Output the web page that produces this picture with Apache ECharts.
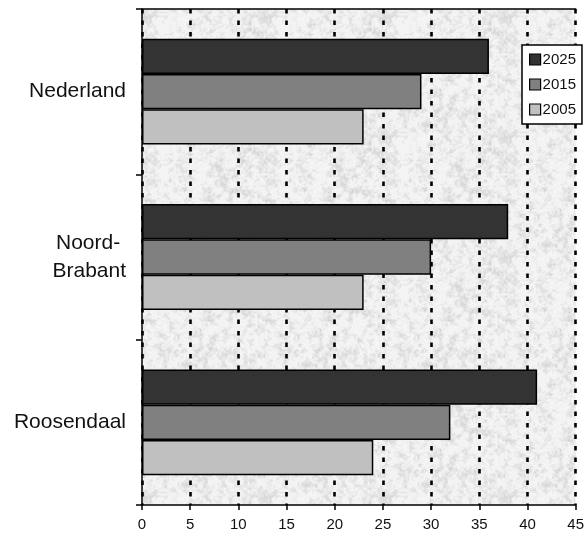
<!DOCTYPE html>
<html>
<head>
<meta charset="utf-8">
<script src="https://cdn.jsdelivr.net/npm/echarts@6/dist/echarts.min.js"></script>
<style>
  html, body { margin: 0; padding: 0; background: #ffffff; }
  #chart { width: 587px; height: 539px; }
</style>
</head>
<body>
<div id="chart"></div>
<script>
// Regions shown on the category axis, top to bottom
const regions = ['Nederland', 'Noord- \nBrabant', 'Roosendaal'];
// Years drawn per region, with their values
const years = ['2025', '2015', '2005'];
const values2025 = [36, 38, 41];
const values2015 = [29, 30, 32];
const values2005 = [23, 23, 24];
const barColors = ['#333333', '#808080', '#c0c0c0'];

// Speckled granite-like fill for the plot area (deterministic hash noise)
function makeTexture() {
  const size = 120;
  const c = document.createElement('canvas');
  c.width = size; c.height = size;
  const ctx = c.getContext('2d');
  const img = ctx.createImageData(size, size);
  function hash(x, y) {
    let h = (x * 374761393 + y * 668265263) | 0;
    h = (h ^ (h >>> 13)) * 1274126177 | 0;
    h = h ^ (h >>> 16);
    return ((h >>> 0) % 1000) / 1000;
  }
  function layer(x, y, cell, seed) {
    const n = size / cell;
    const gx = x / cell, gy = y / cell;
    const x0 = Math.floor(gx), y0 = Math.floor(gy);
    const fx = gx - x0, fy = gy - y0;
    const h = (i, j) => hash((i % n) + seed, (j % n) + seed * 7);
    const a = h(x0, y0), b = h(x0 + 1, y0), c2 = h(x0, y0 + 1), d = h(x0 + 1, y0 + 1);
    return (a * (1 - fx) + b * fx) * (1 - fy) + (c2 * (1 - fx) + d * fx) * fy;
  }
  for (let y = 0; y < size; y++) {
    for (let x = 0; x < size; x++) {
      const v = 0.55 * layer(x, y, 5, 11) + 0.45 * layer(x, y, 2, 53);
      const fine = hash(x + 1000, y + 2000);
      const g = 246 - Math.max(0, v - 0.4) * 60 - fine * 5;
      const i = (y * size + x) * 4;
      img.data[i] = g; img.data[i + 1] = g; img.data[i + 2] = g; img.data[i + 3] = 255;
    }
  }
  ctx.putImageData(img, 0, 0);
  return c;
}

const chart = echarts.init(document.getElementById('chart'), null, { renderer: 'canvas' });
const font = 'Liberation Sans, Arial, sans-serif';

const seriesValues = [values2025, values2015, values2005];

chart.setOption({
  animation: false,
  backgroundColor: '#ffffff',
  grid: {
    left: 142, top: 9, right: 10, bottom: 34,
    show: true,
    borderWidth: 0,
    backgroundColor: { image: makeTexture(), repeat: 'repeat' }
  },
  legend: {
    orient: 'vertical',
    left: 522, top: 45,
    width: 62,
    padding: [7, 6, 7, 7],
    itemGap: 10,
    itemWidth: 11, itemHeight: 11,
    icon: 'rect',
    backgroundColor: '#ffffff',
    borderColor: '#000000',
    borderWidth: 1.5,
    borderRadius: 0,
    textStyle: { fontFamily: font, fontSize: 15, color: '#111111', padding: [0, 0, 0, -3] },
    itemStyle: { borderColor: '#000000', borderWidth: 1.2 },
    data: years
  },
  xAxis: [{
    type: 'value',
    min: 0, max: 45, interval: 5,
    position: 'bottom',
    axisLine: { show: true, onZero: false, lineStyle: { color: '#000000', width: 1.5 } },
    axisTick: { show: true, length: 5, lineStyle: { color: '#000000', width: 1.5 } },
    axisLabel: { fontFamily: font, fontSize: 15, color: '#111111', margin: 12 },
    splitLine: { show: true, lineStyle: { color: '#000000', width: 2.6, type: [4.5, 7] } }
  }, {
    type: 'value',
    min: 0, max: 45, interval: 5,
    position: 'top',
    axisLine: { show: true, onZero: false, lineStyle: { color: '#000000', width: 1.5 } },
    axisTick: { show: false },
    axisLabel: { show: false },
    splitLine: { show: false }
  }],
  yAxis: {
    type: 'category',
    inverse: true,
    data: regions,
    axisLine: { show: true, lineStyle: { color: '#000000', width: 1.5 } },
    axisTick: { show: true, length: 6, lineStyle: { color: '#000000', width: 1.5 } },
    axisLabel: { fontFamily: font, fontSize: 21, color: '#111111', margin: 16, align: 'right', lineHeight: 28 }
  },
  series: years.map((y, i) => ({
    name: y,
    type: 'bar',
    data: seriesValues[i],
    barCategoryGap: '36%',
    barGap: '0%',
    itemStyle: { color: barColors[i], borderColor: '#000000', borderWidth: 1.5 }
  }))
});
</script>
</body>
</html>
